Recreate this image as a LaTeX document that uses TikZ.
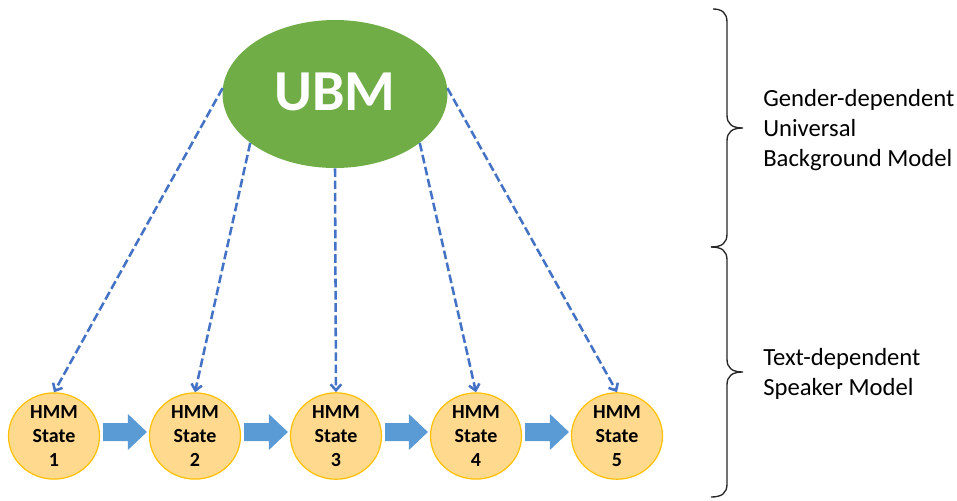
\documentclass[tikz,border=0pt]{standalone}
\usepackage{fontspec}
\setmainfont{Carlito}
\usetikzlibrary{arrows.meta,shapes.geometric,calc}
\definecolor{ubmgreen}{HTML}{70AD47}
\definecolor{statefill}{HTML}{FFD98E}
\definecolor{stateline}{HTML}{FFC000}
\definecolor{flowblue}{HTML}{5B9BD5}
\definecolor{linkblue}{HTML}{4472C4}
\begin{document}
\begin{tikzpicture}[x=0.75pt,y=-0.75pt,
  ubmnode/.style={ellipse,fill=ubmgreen,draw=none,minimum width=168.75pt,minimum height=111pt,
    inner sep=0pt,text=white,font=\fontsize{43.5pt}{50pt}\selectfont\bfseries},
  statenode/.style={ellipse,fill=statefill,draw=stateline,line width=0.9pt,
    minimum width=68.25pt,minimum height=61.5pt,inner sep=0pt,align=center,
    font=\fontsize{15pt}{18pt}\selectfont\bfseries},
  linkarrow/.style={draw=linkblue,line width=1.9pt,dash pattern=on 6.5pt off 2.7pt,
    -{Straight Barb[length=4.5pt,width=8pt,line width=1.9pt]}},
  flowarrow/.style={fill=flowblue},
  bracepath/.style={draw=black!85,line width=1pt},
  sidelabel/.style={anchor=west,align=left,inner sep=0pt,
    font=\fontsize{18.5pt}{22.5pt}\selectfont}]
\useasboundingbox (0,0) rectangle (957,500);

% universal background model
\node[ubmnode] (ubm) at (335,94) {\raisebox{3pt}{UBM}};

% HMM states
\foreach \i/\x in {1/54,2/195,3/336,4/476,5/617}{
  \node[statenode] (h\i) at (\x,436) {HMM\\State\\\i};
}

% adaptation links from the UBM to each state
\draw[linkarrow] (ubm.177) -- (h1.north);
\draw[linkarrow] (ubm.210) -- (h2.north);
\draw[linkarrow] (ubm.south) -- (h3.north);
\draw[linkarrow] (ubm.330) -- (h4.north);
\draw[linkarrow] (ubm.3) -- (h5.north);

% block arrows between consecutive states
\foreach \a/\b in {1/2,2/3,3/4,4/5}{
  \coordinate (s\a) at ($(h\a.east)+(3,-4)$);
  \coordinate (e\a) at ($(h\b.west)+(-2,-4)$);
  \fill[flowarrow] ($(s\a)+(0,-9)$) -- ($(e\a)+(-19,-9)$) -- ($(e\a)+(-19,-18)$)
    -- (e\a) -- ($(e\a)+(-19,18)$) -- ($(e\a)+(-19,9)$) -- ($(s\a)+(0,9)$) -- cycle;
}

% braces
\draw[bracepath] (713,9) .. controls (722,9) and (727,13) .. (727,22) -- (727,115)
  .. controls (727,124) and (732,128) .. (743,128)
  .. controls (732,128) and (727,132) .. (727,141) -- (727,234)
  .. controls (727,243) and (722,247) .. (711,247);
\draw[bracepath] (711,247) .. controls (722,247) and (727,251) .. (727,260) -- (727,359)
  .. controls (727,368) and (732,372) .. (743,372)
  .. controls (732,372) and (727,376) .. (727,385) -- (727,484)
  .. controls (727,493) and (722,497) .. (711,497);

% labels
\node[sidelabel] (lab1) at (763,130) {Gender-dependent\\Universal\\Background Model};
\node[sidelabel] (lab2) at (763,374) {Text-dependent\\Speaker Model};
\end{tikzpicture}
\end{document}
